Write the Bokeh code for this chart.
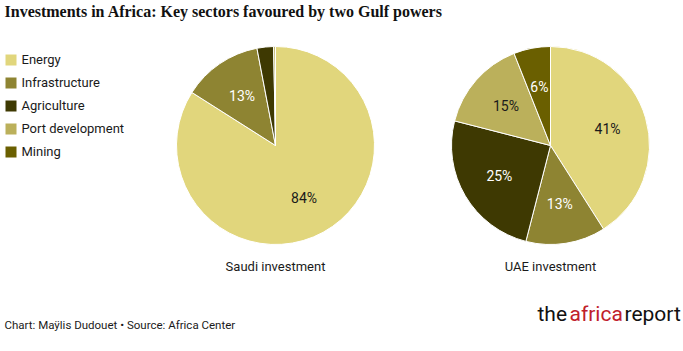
import math
from bokeh.plotting import figure
from bokeh.models import ColumnDataSource, Label, Range1d
from bokeh.core.properties import value
from bokeh.embed import file_html
from bokeh.resources import INLINE

# ---- data ----
title_text = "Investments in Africa: Key sectors favoured by two Gulf powers"
sectors = ["Energy", "Infrastructure", "Agriculture", "Port development", "Mining"]
saudi_share = [84.0, 13.0, 2.7, 0.3, 0.0]
uae_share = [41.0, 13.0, 25.0, 15.0, 6.0]
pie_names = ["Saudi investment", "UAE investment"]
credit_text = "Chart: Maÿlis Dudouet • Source: Africa Center"
logo_words = ["the", "africa", "report"]

# ---- styles ----
slice_colors = ["#E1D67C", "#8E8432", "#3E3902", "#BBB05B", "#6A5F00"]
text_colors = ["#1a1a1a", "#ffffff", "#ffffff", "#1a1a1a", "#ffffff"]
SANS = "Roboto"

W, H = 683, 351
p = figure(width=W, height=H, x_range=Range1d(0, W), y_range=Range1d(0, H),
           output_backend="svg", toolbar_location=None, min_border=0,
           x_axis_location=None, y_axis_location=None)
p.grid.visible = False
p.outline_line_color = None
p.background_fill_color = "white"


def draw_pie(shares, cx, cy, r, name, legend=False):
    total = sum(shares)
    cum = 0.0
    d = dict(sector=[], start=[], end=[], color=[])
    lab = dict(x=[], y=[], text=[], color=[])
    for i, s in enumerate(shares):
        a0 = math.pi / 2 - 2 * math.pi * cum / total
        cum += s
        a1 = math.pi / 2 - 2 * math.pi * cum / total
        if s <= 0:
            continue
        d["sector"].append(sectors[i])
        d["start"].append(a0)
        d["end"].append(a1)
        d["color"].append(slice_colors[i])
        if s > 5:
            mid = (a0 + a1) / 2
            lab["x"].append(cx + 0.6 * r * math.cos(mid))
            lab["y"].append(cy + 0.6 * r * math.sin(mid))
            lab["text"].append(f"{round(s)}%")
            lab["color"].append(text_colors[i])
    src = ColumnDataSource(d)
    kw = dict(legend_field="sector") if legend else {}
    p.wedge(x=cx, y=cy, radius=r, start_angle="start", end_angle="end",
            direction="clock", fill_color="color", line_color="white",
            line_width=1, source=src, **kw)
    p.text(x="x", y="y", text="text", text_color="color", source=ColumnDataSource(lab),
           text_font=value(SANS), text_font_size="14px", text_align="center",
           text_baseline="middle")
    p.text(x=[cx], y=[cy - r - 22], text=[name], text_font=value(SANS),
           text_font_size="13px", text_align="center", text_baseline="middle",
           text_color="#1a1a1a")


draw_pie(saudi_share, 275, 206, 99, pie_names[0])
draw_pie(uae_share, 550, 206, 99, pie_names[1], legend=True)

leg = p.legend[0]
leg.location = (2.5, 192.5)
leg.glyph_width = 15
leg.glyph_height = 15
leg.label_height = 15
leg.spacing = 8
leg.padding = 0
leg.margin = 0
leg.label_standoff = 4
leg.border_line_color = None
leg.background_fill_alpha = 0
leg.label_text_font = SANS
leg.label_text_font_size = "13px"
leg.label_text_color = "#1a1a1a"

p.add_layout(Label(x=4, y=H - 19, x_units="screen", y_units="screen", text=title_text,
                   text_font="Liberation Serif", text_font_style="bold",
                   text_font_size="16px", text_color="#111111"))
p.add_layout(Label(x=4, y=H - 331, x_units="screen", y_units="screen", text=credit_text,
                   text_font=SANS, text_font_size="11.5px", text_color="#1a1a1a"))
logo_colors = ["#111111", "#C0202A", "#111111"]
logo_x = [537, 569, 624]
for t, c, x in zip(logo_words, logo_colors, logo_x):
    p.add_layout(Label(x=x, y=H - 325, x_units="screen", y_units="screen", text=t,
                       text_font=SANS, text_font_size="21px", text_color=c))

open("out.html", "w").write(file_html(p, INLINE))
